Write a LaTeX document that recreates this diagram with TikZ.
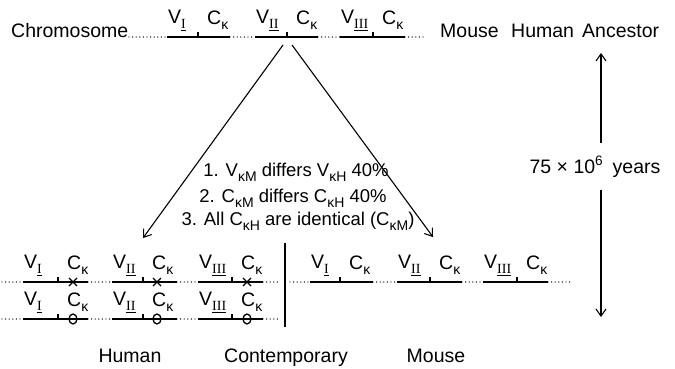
\documentclass[tikz,border=0pt]{standalone}
\usepackage{fontspec}
\setmainfont{Liberation Sans}
\newfontfamily\numfont{Liberation Serif}
\usetikzlibrary{arrows.meta}
\newcommand\rnum[1]{\underline{\numfont #1}}
\newcommand\sbx[1]{\raisebox{-0.28em}{\fontsize{14}{14}\selectfont #1}}
\tikzset{
  lab/.style={inner sep=0pt, font=\fontsize{19.5}{22}\selectfont},
  small/.style={inner sep=0pt, font=\fontsize{18.5}{21}\selectfont},
  chrom/.style={line width=1.6pt},
  dotline/.style={line width=1.4pt, line cap=round, dash pattern=on 0pt off 3.6pt},
  arr/.style={line width=1.1pt, -{Straight Barb[length=7pt,width=10pt]}},
  xmark/.style={line width=1.3pt},
}
% #1 name, #2 x start, #3 y line, #4 numeral, #5 tick offset, #6 length
\newcommand\genesegment[6]{%
  \coordinate (#1s) at (#2,#3);
  \coordinate (#1e) at (#2+#6,#3);
  \coordinate (#1t) at (#2+#5,#3);
  \draw[chrom] (#1s) -- (#1e);
  \draw[chrom] (#1t) -- ++(0,-5);
  \node[lab, anchor=base west] (#1v) at (#2+1,#3-14) {V\sbx{\rnum{#4}}};
  \node[lab, anchor=base west] (#1c) at (#2+#5+9,#3-13) {C\sbx{κ}};
}
\begin{document}
\begin{tikzpicture}[x=1pt,y=-1pt]
\useasboundingbox[fill=white] (0,0) rectangle (675,368);

% ---------------- top (ancestor) row ----------------
\node[lab, anchor=base west] (chr) at (11,37) {Chromosome};
\genesegment{a1}{167}{37}{I}{31}{63}
\genesegment{a2}{255}{37}{II}{32}{63}
\genesegment{a3}{340}{37}{III}{33}{65}
\coordinate (d0) at (129,37);
\coordinate (d4) at (426,37);
\draw[dotline] (d0) -- (a1s);
\draw[dotline] (a1e) -- (a2s);
\draw[dotline] (a2e) -- (a3s);
\draw[dotline] (a3e) -- (d4);
\node[lab, anchor=base west] (mouseT) at (440,37) {Mouse};
\node[lab, anchor=base west] (humanT) at (511,37) {Human};
\node[lab, anchor=base west] (ancT) at (582,37) {Ancestor};

% ---------------- divergence arrows ----------------
\coordinate (srcL) at (283,45);
\coordinate (srcR) at (292,45);
\coordinate (tipL) at (143,238);
\coordinate (tipR) at (433,237);
\draw[arr] (srcL) -- (tipL);
\draw[arr] (srcR) -- (tipR);

\node[small] (l1) at (296,172) {1. V\sbx{κM} differs V\sbx{κH} 40\%};
\node[small] (l2) at (293,198) {2. C\sbx{κM} differs C\sbx{κH} 40\%};
\node[small] (l3) at (298,221) {3. All C\sbx{κH} are identical (C\sbx{κM})};

% ---------------- time scale ----------------
\node[lab] (yrs) at (595,167) {75 × 10\textsuperscript{6}\hspace{4pt} years};
\coordinate (ytop) at (601,53);
\coordinate (ybot) at (601,317);
\coordinate (yu) at (601,143);
\coordinate (yd) at (601,190);
\draw[arr] (yu) -- (ytop);
\draw[arr] (yd) -- (ybot);

% ---------------- human (two rows) ----------------
\genesegment{h1}{23}{282}{I}{35}{65}
\genesegment{h2}{112}{282}{II}{31}{65}
\genesegment{h3}{198}{282}{III}{34}{65}
\genesegment{g1}{23}{319}{I}{35}{65}
\genesegment{g2}{112}{319}{II}{31}{65}
\genesegment{g3}{198}{319}{III}{34}{65}
\coordinate (hd0) at (2,282);
\coordinate (hd4) at (280,282);
\coordinate (gd0) at (2,319);
\coordinate (gd4) at (280,319);
\draw[dotline] (hd0) -- (h1s);
\draw[dotline] (h1e) -- (h2s);
\draw[dotline] (h2e) -- (h3s);
\draw[dotline] (h3e) -- (hd4);
\draw[dotline] (gd0) -- (g1s);
\draw[dotline] (g1e) -- (g2s);
\draw[dotline] (g2e) -- (g3s);
\draw[dotline] (g3e) -- (gd4);
% crosses and circles
\foreach \xx in {73,157,247}{
  \draw[xmark] (\xx-4,278) -- (\xx+4,286);
  \draw[xmark] (\xx-4,286) -- (\xx+4,278);
  \draw[xmark, fill=white] (\xx,319) ellipse [x radius=4pt, y radius=5pt];
  \draw[chrom] (\xx-4,319) -- (\xx+4,319);
}

% divider
\coordinate (barT) at (285,243);
\coordinate (barB) at (285,327);
\draw[line width=1.6pt] (barT) -- (barB);

% ---------------- mouse (one row) ----------------
\genesegment{m1}{310}{282}{I}{30}{63}
\genesegment{m2}{397}{282}{II}{33}{65}
\genesegment{m3}{483}{282}{III}{34}{65}
\coordinate (md0) at (290,282);
\coordinate (md4) at (570,282);
\draw[dotline] (md0) -- (m1s);
\draw[dotline] (m1e) -- (m2s);
\draw[dotline] (m2e) -- (m3s);
\draw[dotline] (m3e) -- (md4);

% ---------------- bottom labels ----------------
\node[lab, anchor=base] (humB) at (130,362) {Human};
\node[lab, anchor=base] (conB) at (286,362) {Contemporary};
\node[lab, anchor=base] (mouB) at (436,362) {Mouse};
\end{tikzpicture}
\end{document}
